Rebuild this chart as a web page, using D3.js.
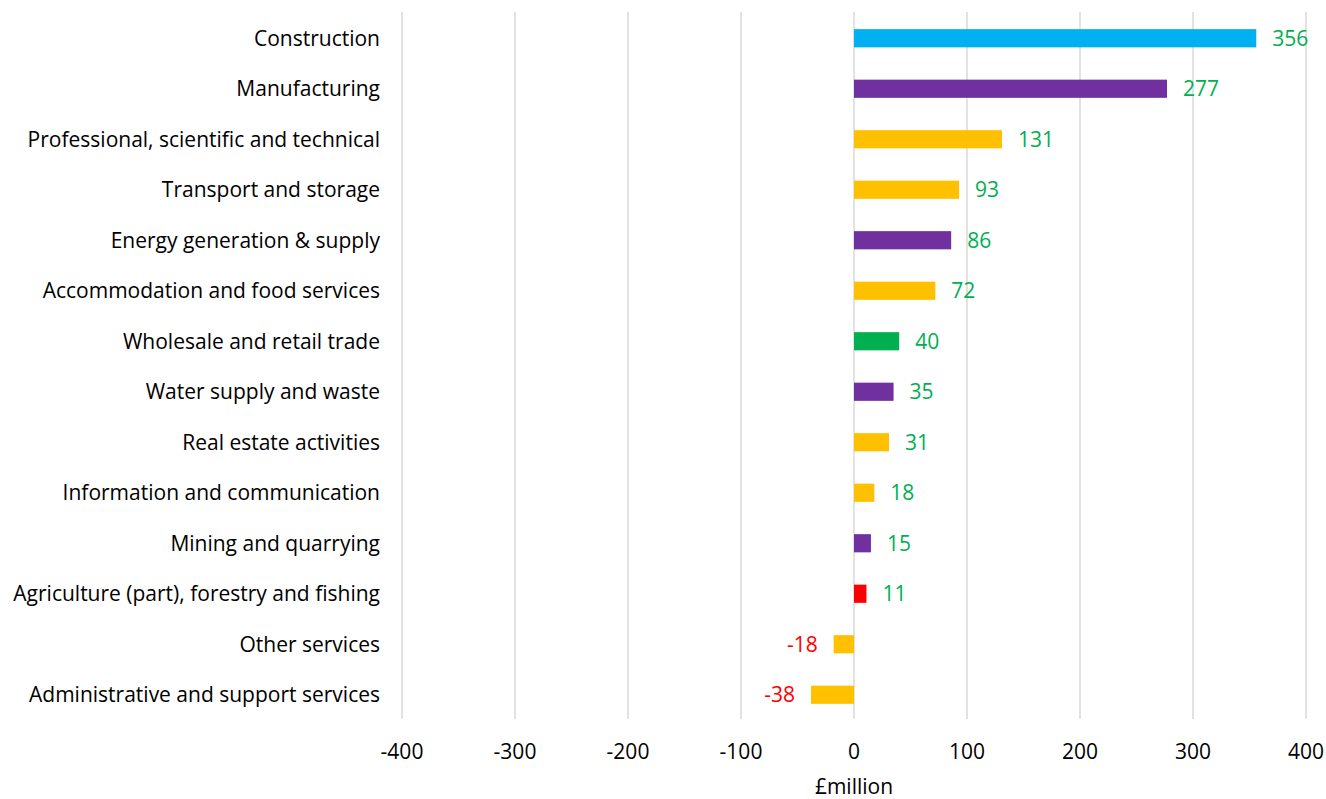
<!DOCTYPE html>
<html><head><meta charset="utf-8">
<script src="https://cdn.jsdelivr.net/npm/d3@7"></script>
<style>body{margin:0;background:#fff}svg{display:block}text{font-family:"Open Sans",sans-serif}</style>
</head><body><svg id="c" width="1326" height="799"></svg>
<script>
const categories = ["Construction","Manufacturing","Professional, scientific and technical","Transport and storage","Energy generation & supply","Accommodation and food services","Wholesale and retail trade","Water supply and waste","Real estate activities","Information and communication","Mining and quarrying","Agriculture (part), forestry and fishing","Other services","Administrative and support services"];
const values = [356,277,131,93,86,72,40,35,31,18,15,11,-18,-38];
const barColors = ["#00B0F0","#7030A0","#FFC000","#FFC000","#7030A0","#FFC000","#00B050","#7030A0","#FFC000","#FFC000","#7030A0","#FF0000","#FFC000","#FFC000"];
const ticks = [-400,-300,-200,-100,0,100,200,300,400];
const axisTitle = "£million";

const svg = d3.select("#c");
const x = d3.scaleLinear().domain([-400,400]).range([402,1306]);
const y = d3.scaleBand().domain(categories).range([13,720]).paddingInner(0.64).paddingOuter(0.32);
const fs = 21;

svg.append("g").selectAll("line").data(ticks).join("line")
  .attr("x1",d=>x(d)).attr("x2",d=>x(d)).attr("y1",12).attr("y2",719)
  .attr("stroke","#d9d9d9").attr("stroke-width",1.5);

svg.append("g").selectAll("rect").data(values).join("rect")
  .attr("x",d=>x(Math.min(0,d))).attr("width",d=>Math.abs(x(d)-x(0)))
  .attr("y",(d,i)=>y(categories[i])).attr("height",y.bandwidth())
  .attr("fill",(d,i)=>barColors[i]);

svg.append("g").selectAll("text").data(categories).join("text")
  .attr("x",380).attr("y",d=>y(d)+y.bandwidth()/2).attr("dy","0.35em")
  .attr("text-anchor","end").attr("font-size",fs).attr("fill","#000").text(d=>d);

svg.append("g").selectAll("text").data(values).join("text")
  .attr("x",d=>d>=0 ? x(d)+16 : x(d)-16)
  .attr("y",(d,i)=>y(categories[i])+y.bandwidth()/2).attr("dy","0.35em")
  .attr("text-anchor",d=>d>=0?"start":"end").attr("font-size",fs)
  .attr("fill",d=>d>=0?"#00B050":"#FF0000").text(d=>d);

svg.append("g").selectAll("text").data(ticks).join("text")
  .attr("x",d=>x(d)).attr("y",752).attr("dy","0.35em").attr("text-anchor","middle")
  .attr("font-size",fs).attr("fill","#000").text(d=>d);

svg.append("text").attr("x",x(0)).attr("y",787).attr("dy","0.35em").attr("text-anchor","middle")
  .attr("font-size",fs).attr("fill","#000").text(axisTitle);
</script></body></html>
